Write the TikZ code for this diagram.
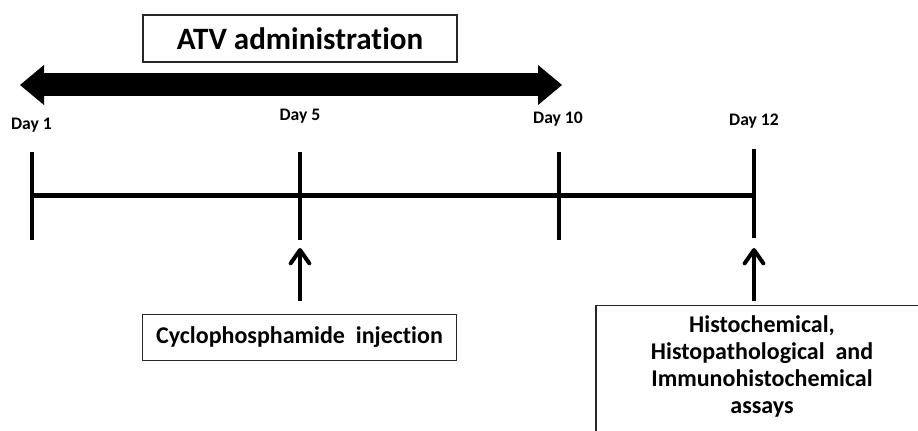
\documentclass[tikz,border=0pt]{standalone}
\usepackage{fontspec}
\setmainfont[Ligatures=NoCommon]{Carlito}
\usetikzlibrary{arrows.meta}

\begin{document}
\begin{tikzpicture}[x=0.75pt,y=-0.75pt]
			\tikzstyle{bx} = [draw=black!85, line width=0.9pt, inner sep=0pt]
			\tikzstyle{dl} = [font=\bfseries\fontsize{13.2}{15}\selectfont, anchor=base, inner sep=0pt]
			\tikzstyle{tk} = [line width=2.6pt]
			\tikzstyle{es} = [line width=3pt, -{Straight Barb[length=10pt,width=14pt,line cap=round,line join=round]}]
			\tikzstyle{big} = [line width=17.25pt, {Triangle[length=18pt,width=30pt,line width=0pt]}-{Triangle[length=18pt,width=30pt,line width=0pt]}]
			\useasboundingbox (0,0) rectangle (918,431);
			\node [bx, minimum width=235.5pt, minimum height=35.25pt, font=\bfseries\fontsize{23.3}{27}\selectfont] (atv) at (300,38.5) {ATV administration};
			\coordinate (a1) at (20,85);
			\coordinate (a2) at (562,85);
			\draw [big] (a1) -- (a2);
			\node [dl] (d1) at (31.5,130) {Day 1};
			\node [dl] (d5) at (300,121) {Day 5};
			\node [dl] (d10) at (558,124) {Day 10};
			\node [dl] (d12) at (754,126) {Day 12};
			\coordinate (v1) at (32,152);
			\coordinate (v2) at (32,240);
			\coordinate (v3) at (300,152);
			\coordinate (v4) at (300,240);
			\coordinate (v5) at (559,152);
			\coordinate (v6) at (559,240);
			\coordinate (v7) at (754,149);
			\coordinate (v8) at (754,238);
			\draw [tk] (v1) -- (v2);
			\draw [tk] (v3) -- (v4);
			\draw [tk] (v5) -- (v6);
			\draw [tk] (v7) -- (v8);
			\coordinate (h1) at (32,195.5);
			\coordinate (h2) at (754,195.5);
			\draw [line width=3.4pt] (h1) -- (h2);
			\node [bx, minimum width=236pt, minimum height=35pt, font=\bfseries\fontsize{18}{21}\selectfont] (cyc) at (299.5,337.5) {Cyclophosphamide\ \ injection};
			\coordinate (u1) at (300,301);
			\coordinate (u2) at (300,248);
			\draw [es] (u1) -- (u2);
			\begin{scope}
				\clip (0,0) rectangle (918,431);
				\draw [draw=black!85, line width=0.9pt] (596,305.5) rectangle (930,450);
			\end{scope}
			\node [inner sep=0pt, anchor=north, align=center, font=\bfseries\fontsize{18}{20.25}\selectfont] (asy) at (762,315) {Histochemical,\\Histopathological\ \ and\\Immunohistochemical\\assays};
			\coordinate (u3) at (754,301);
			\coordinate (u4) at (754,248);
			\draw [es] (u3) -- (u4);
		\end{tikzpicture}
\end{document}
